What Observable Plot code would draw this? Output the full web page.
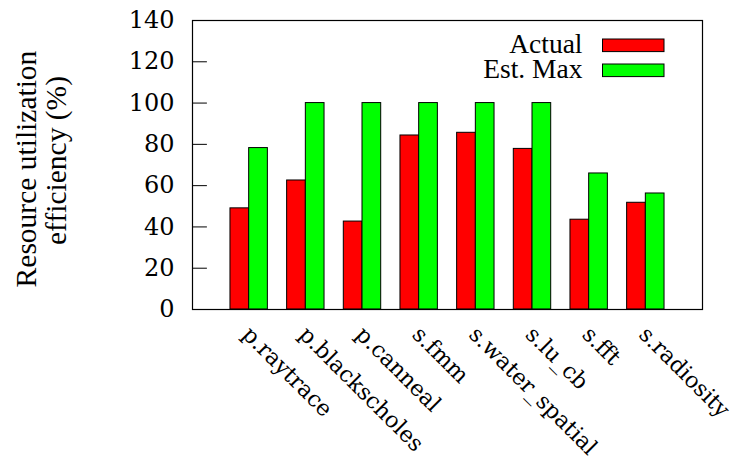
<!DOCTYPE html>
<html>
<head>
<meta charset="utf-8">
<script src="https://cdn.jsdelivr.net/npm/d3@7"></script>
<script src="https://cdn.jsdelivr.net/npm/@observablehq/plot@0.6"></script>
<style>
  html, body { margin: 0; padding: 0; background: #fff; }
  #chart { width: 738px; height: 461px; }
</style>
</head>
<body>
<div id="chart"></div>
<script>
const categories = ["p.raytrace", "p.blackscholes", "p.canneal", "s.fmm", "s.water_spatial", "s.lu_cb", "s.fft", "s.radiosity"];
const actual = [49.0, 62.5, 42.6, 84.3, 85.6, 77.8, 43.5, 51.7];
const estMax = [78.2, 100, 100, 100, 100, 100, 65.9, 56.2];
const yTicks = [0, 20, 40, 60, 80, 100, 120, 140];
const seriesNames = ["Actual", "Est. Max"];
const seriesColors = ["#ff0000", "#00ff00"];
const yLabelLines = ["Resource utilization", "efficiency (%)"];

const SERIF = "Liberation Serif";
const SLAB = "DejaVu Serif";
const data = categories.map((c, i) => ({cat: c, actual: actual[i], estMax: estMax[i]}));

const W = 738, H = 461;
const mL = 192, mR = 36, mT = 20, mB = 152;
const pInner = 0.34, pOuter = 0.67;
const step = (W - mL - mR) / (categories.length - pInner + 2 * pOuter);
const half = step * (1 - pInner) / 2;

const tickShape = {draw(ctx, l) { ctx.moveTo(0, 0); ctx.lineTo(0, -l); }};

const chart = Plot.plot({
  width: W,
  height: H,
  marginLeft: mL,
  marginRight: mR,
  marginTop: mT,
  marginBottom: mB,
  style: {fontFamily: SERIF, background: "#fff", color: "#000"},
  x: {type: "band", domain: categories, paddingInner: pInner, paddingOuter: pOuter, align: 0.5, round: false, axis: null},
  y: {domain: [0, 140], axis: null},
  marks: [
    Plot.barY(data, {x: "cat", y: "actual", fill: seriesColors[0], stroke: "#000", strokeWidth: 1, insetRight: half}),
    Plot.barY(data, {x: "cat", y: "estMax", fill: seriesColors[1], stroke: "#000", strokeWidth: 1, insetLeft: half}),
    Plot.vector(yTicks, {y: d => d, frameAnchor: "left", length: 14, rotate: 90, anchor: "start", shape: tickShape, stroke: "#000", strokeWidth: 1}),
    Plot.axisY({ticks: yTicks, tickSize: 0, tickPadding: 18, fontSize: 24, fontFamily: SLAB, fill: "#000", label: null}),
    Plot.text(categories, {x: d => d, frameAnchor: "bottom", rotate: 45, textAnchor: "start", lineAnchor: "top", dx: 3, dy: 15, fontSize: 22.3, fontFamily: SLAB, fill: "#000"}),
    Plot.text([yLabelLines[0]], {frameAnchor: "left", rotate: -90, textAnchor: "middle", lineAnchor: "bottom", dx: -157, dy: 4, fontSize: 29.5, fontFamily: SERIF, fill: "#000"}),
    Plot.text([yLabelLines[1]], {frameAnchor: "left", rotate: -90, textAnchor: "middle", lineAnchor: "bottom", dx: -127, dy: -4.5, fontSize: 29.5, fontFamily: SERIF, fill: "#000"}),
    Plot.frame({stroke: "#000", strokeWidth: 1.2})
  ]
});

document.getElementById("chart").appendChild(chart);

// legend inside the plot area (top-right)
const svg = d3.select(chart.tagName.toLowerCase() === "svg" ? chart : chart.querySelector("svg"));
const lg = svg.append("g").attr("class", "legend");
const textBaselines = [53.3, 77.7];
const swatchCenters = [45.3, 70.3];
seriesNames.forEach((name, i) => {
  lg.append("text")
    .attr("x", 582.5).attr("y", textBaselines[i])
    .attr("text-anchor", "end")
    .attr("font-family", SERIF).attr("font-size", 27.5).attr("fill", "#000")
    .text(name);
  lg.append("rect")
    .attr("x", 602.5).attr("y", swatchCenters[i] - 6.3)
    .attr("width", 61.5).attr("height", 12.6)
    .attr("fill", seriesColors[i]).attr("stroke", "#000").attr("stroke-width", 1);
});
</script>
</body>
</html>
